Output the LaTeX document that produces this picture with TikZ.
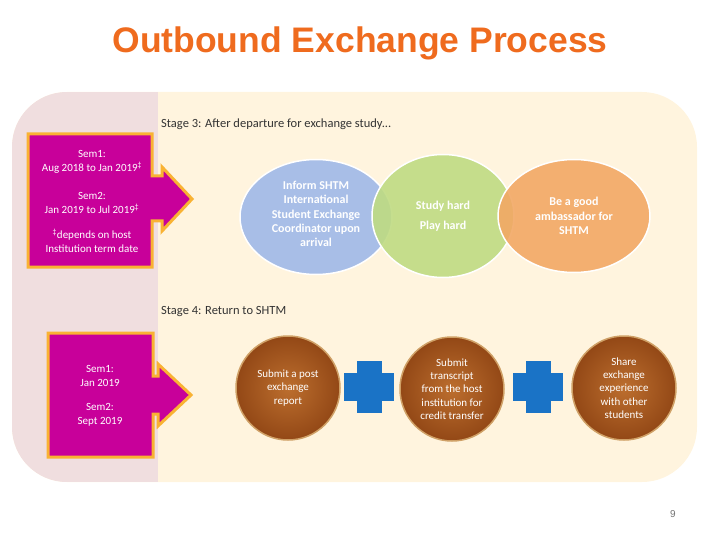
\documentclass[tikz,border=0pt]{standalone}
\usepackage{fontspec}
\setmainfont{Carlito}
\newfontfamily\arialfont{Liberation Sans}
\usetikzlibrary{shapes.geometric,positioning}

\definecolor{titleorange}{HTML}{EF6B1E}
\definecolor{pinkbg}{HTML}{F0DEDF}
\definecolor{creambg}{HTML}{FFF4DE}
\definecolor{semmagenta}{HTML}{C8009A}
\definecolor{semborder}{HTML}{F9B233}
\definecolor{ellblue}{HTML}{9FB9E8}
\definecolor{ellgreen}{HTML}{BFDB82}
\definecolor{ellorange}{HTML}{F2A865}
\definecolor{brownin}{HTML}{BC6E2E}
\definecolor{brownout}{HTML}{934816}
\definecolor{brownrim}{HTML}{CFA066}
\definecolor{plusblue}{HTML}{1A73C6}

\begin{document}
\begin{tikzpicture}[
  x=1pt, y=-1pt,
  stagelab/.style={anchor=west, font=\fontsize{12.5}{14}\selectfont, text=black!80, inner sep=0},
  semtext/.style={font=\fontsize{11}{14}\selectfont, text=white, align=center, inner sep=0},
  sembox/.style={fill=semmagenta, draw=semborder, line width=3pt, line join=miter},
  stageell/.style={ellipse, draw=white, line width=1.5pt, fill opacity=0.9, text opacity=1,
    text=white, align=center, inner sep=0, font=\bfseries\fontsize{12}{14.3}\selectfont},
  stepcirc/.style={circle, minimum size=104pt, inner sep=0, inner color=brownin, outer color=brownout,
    draw=brownrim, line width=1.5pt, text=white, align=center,
    font=\fontsize{11}{13.3}\selectfont},
  plussign/.style={fill=plusblue}
]
\path[use as bounding box] (0,0) rectangle (720,540);

% title
\node[anchor=base, text=titleorange, font=\arialfont\bfseries\fontsize{35.5}{40}\selectfont] (title) at (360,53) {Outbound Exchange Process};

% background panel
\fill[creambg, rounded corners=55pt] (12,92) rectangle (697,482);
\begin{scope}
  \clip[rounded corners=55pt] (12,92) rectangle (697,482);
  \fill[pinkbg] (12,92) rectangle (158,482);
\end{scope}

% stage labels
\node[stagelab] (stage3) at (161,124) {Stage 3: After departure for exchange study...};
\node[stagelab] (stage4) at (161,312) {Stage 4: Return to SHTM};

% stage 3 arrow box
\draw[sembox] (28,134) -- (152,134) -- (152,176) -- (162,176) -- (162,167) -- (192,199)
  -- (162,231) -- (162,221) -- (152,221) -- (152,267) -- (28,267) -- cycle;
\node[semtext] (sem1a) at (92,162) {Sem1:\\Aug 2018 to Jan 2019\textsuperscript{‡}};
\node[semtext] (sem2a) at (92,203) {Sem2:\\Jan 2019 to Jul 2019\textsuperscript{‡}};
\node[semtext] (notea) at (92,240.5) {\textsuperscript{‡}depends on host\\Institution term date};

% stage 4 arrow box
\draw[sembox] (48,333) -- (153,333) -- (153,376) -- (158,376) -- (158,364) -- (191,395)
  -- (158,426) -- (158,414) -- (153,414) -- (153,457) -- (48,457) -- cycle;
\node[semtext] (sem1b) at (100,376) {Sem1:\\Jan 2019};
\node[semtext] (sem2b) at (100,414.5) {Sem2:\\Sept 2019};

% stage 3 ellipses
\node[stageell, fill=ellblue, minimum width=152pt, minimum height=115pt] (inform) at (316,217)
  {Inform SHTM\\International\\Student Exchange\\Coordinator upon\\arrival\\[-8pt]};
\node[stageell, fill=ellgreen, minimum width=142pt, minimum height=123pt, font=\bfseries\fontsize{12}{20}\selectfont] (study) at (443,216)
  {Study hard\\Play hard};
\node[stageell, fill=ellorange, minimum width=152pt, minimum height=113pt] (ambassador) at (574,216)
  {Be a good\\ambassador for\\SHTM};

% stage 4 circles
\node[stepcirc] (report) at (288,388) {Submit a post\\exchange\\report};
\node[stepcirc] (transcript) at (452,389) {Submit\\transcript\\from the host\\institution for\\credit transfer};
\node[stepcirc] (share) at (624,388) {Share\\exchange\\experience\\with other\\students};

% plus signs
\coordinate (plusa) at (369,387);
\coordinate (plusb) at (538,387);
\foreach \p in {plusa,plusb}{
  \fill[plussign] ([shift={(-12.5,-26)}]\p) rectangle ([shift={(12.5,26)}]\p);
  \fill[plussign] ([shift={(-25,-14)}]\p) rectangle ([shift={(25,14)}]\p);
}

% page number
\node[font=\arialfont\fontsize{10}{12}\selectfont, text=black!55] (pagenum) at (673,514) {9};
\end{tikzpicture}
\end{document}
